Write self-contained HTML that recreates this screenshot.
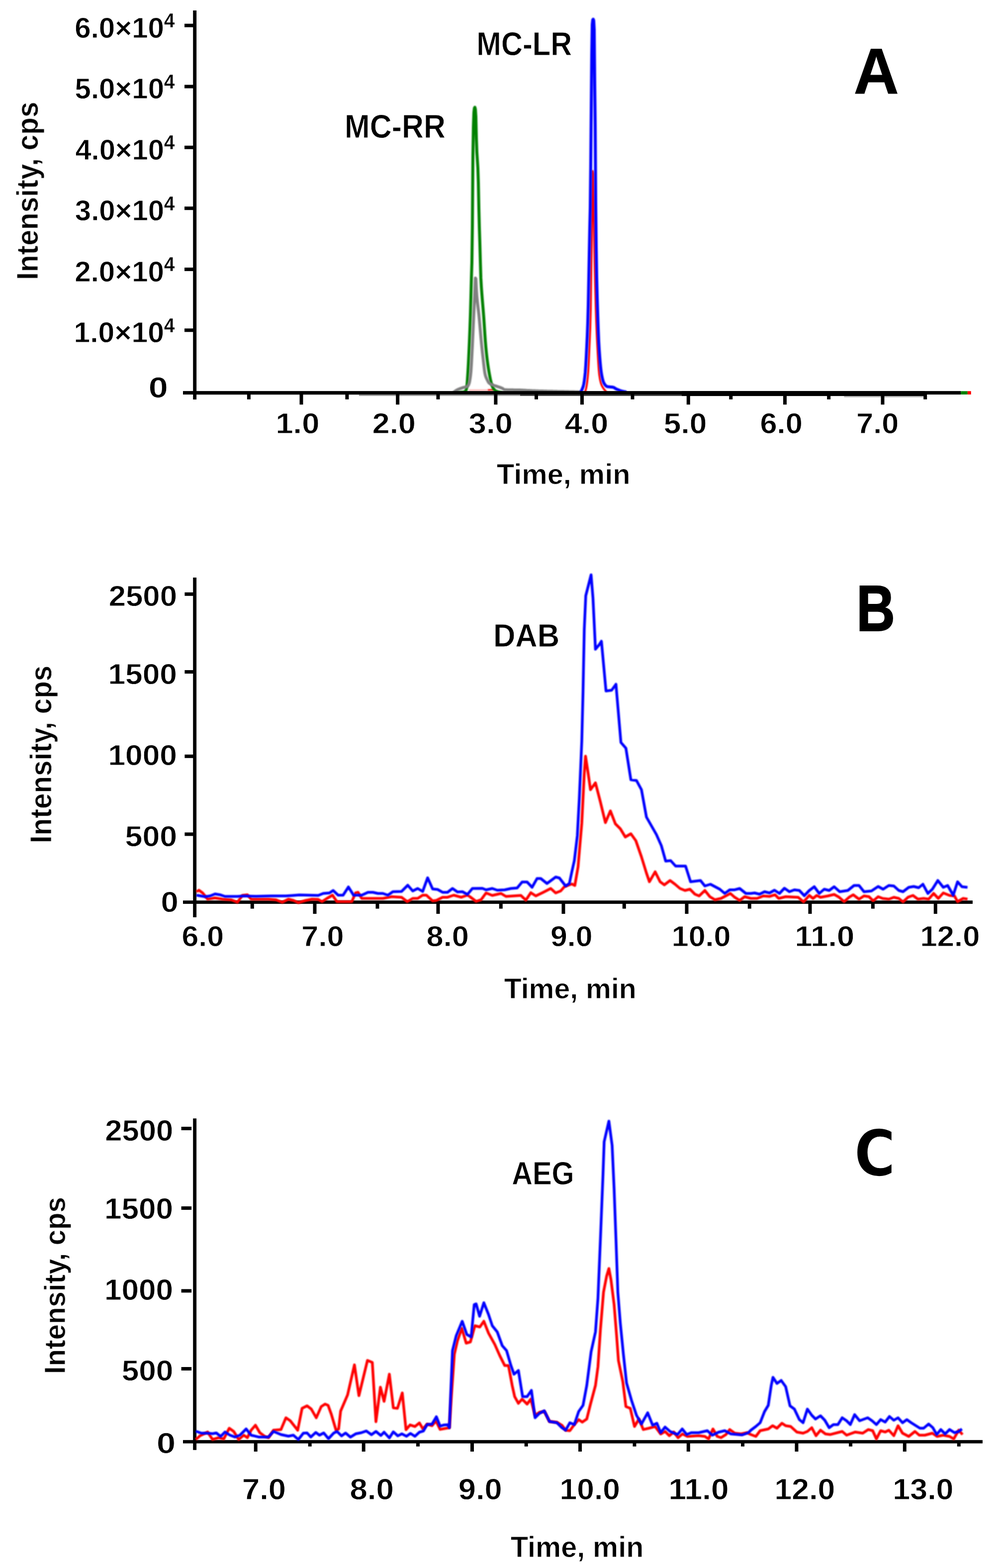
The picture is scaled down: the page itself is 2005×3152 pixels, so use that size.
<!DOCTYPE html>
<html lang="en">
<head>
<meta charset="utf-8">
<title>Chromatograms A, B, C</title>
<style>
html,body{margin:0;padding:0;background:#fff;}
body{width:2005px;height:3152px;}
svg{display:block;}
.soft{filter:blur(0.9px);}
svg text{font-family:"Liberation Sans","DejaVu Sans",sans-serif;font-weight:bold;fill:#000;}
svg text.dv{font-family:"DejaVu Sans","Liberation Sans",sans-serif;}
</style>
</head>
<body>
<svg width="2005" height="3152" viewBox="0 0 2005 3152">
<rect x="0" y="0" width="2005" height="3152" fill="#ffffff"/>
<polyline class="soft" points="943.0,784.3 981.0,784.3" fill="none" stroke="#ffb4b4" stroke-width="3" stroke-linejoin="round" stroke-linecap="butt"/>
<polyline class="soft" points="981.0,784.0 993.0,783.6" fill="none" stroke="#ff2020" stroke-width="3.5" stroke-linejoin="round" stroke-linecap="butt"/>
<polyline class="soft" points="917.0,789.0 918.0,789.0 919.0,789.0 920.0,789.0 921.0,789.0 922.0,788.9 923.0,788.9 924.0,788.9 925.0,788.8 926.0,788.8 927.0,788.7 928.0,788.6 929.0,788.6 930.0,788.5 931.0,788.4 932.0,788.2 933.0,787.9 934.0,787.5 935.0,787.0 936.0,786.4 937.0,785.2 938.0,781.9 939.0,775.5 940.0,762.9 941.0,748.0 942.0,729.8 943.0,708.8 944.0,686.4 945.0,661.5 946.0,632.9 947.0,597.2 948.0,558.7 949.0,527.3 950.0,454.3 951.0,314.9 952.0,255.8 953.0,226.0 954.0,217.5 955.0,215.6 956.0,219.7 957.0,234.8 958.0,278.0 959.0,306.1 960.0,321.6 961.0,337.8 962.0,367.7 963.0,417.7 964.0,457.6 965.0,489.1 966.0,525.5 967.0,558.7 968.0,576.3 969.0,590.0 970.0,603.1 971.0,615.1 972.0,627.0 973.0,640.1 974.0,655.1 975.0,670.7 976.0,685.2 977.0,697.3 978.0,707.7 979.0,716.8 980.0,725.0 981.0,732.3 982.0,739.1 983.0,745.2 984.0,751.0 985.0,756.4 986.0,761.5 987.0,766.1 988.0,770.0 989.0,773.3 990.0,776.3 991.0,778.8 992.0,780.6 993.0,782.0 994.0,783.2 995.0,784.3 996.0,785.1 997.0,785.8 998.0,786.2 999.0,786.6 1000.0,787.0 1001.0,787.3 1002.0,787.7 1003.0,788.0 1004.0,788.2 1005.0,788.4 1006.0,788.6 1007.0,788.8 1008.0,788.9 1009.0,789.0 1010.0,789.0 1010.0,789.0" fill="none" stroke="#008000" stroke-width="6" stroke-linejoin="round" stroke-linecap="butt"/>
<polyline class="soft" points="912.0,789.0 913.0,788.1 914.0,787.3 915.0,786.5 916.0,785.8 917.0,785.1 918.0,784.5 919.0,784.0 920.0,783.5 921.0,783.0 922.0,782.5 923.0,782.1 924.0,781.7 925.0,781.3 926.0,780.9 927.0,780.6 928.0,780.2 929.0,779.8 930.0,779.5 931.0,779.2 932.0,778.9 933.0,778.7 934.0,778.5 935.0,778.3 936.0,778.0 937.0,777.8 938.0,777.4 939.0,777.0 940.0,776.5 941.0,775.6 942.0,774.1 943.0,772.0 944.0,768.7 945.0,763.5 946.0,756.6 947.0,747.5 948.0,732.5 949.0,713.7 950.0,694.0 951.0,672.7 952.0,649.4 953.0,627.5 954.0,606.8 955.0,585.2 956.0,558.9 957.0,560.4 958.0,581.4 959.0,595.9 960.0,606.1 961.0,614.8 962.0,623.2 963.0,632.1 964.0,642.3 965.0,653.5 966.0,665.1 967.0,676.7 968.0,687.8 969.0,697.9 970.0,707.4 971.0,716.4 972.0,725.0 973.0,733.8 974.0,742.4 975.0,749.6 976.0,754.1 977.0,757.3 978.0,759.8 979.0,762.0 980.0,764.0 981.0,766.0 982.0,767.8 983.0,769.3 984.0,770.3 985.0,771.0 986.0,771.6 987.0,772.2 988.0,772.6 989.0,773.1 990.0,773.5 991.0,773.9 992.0,774.3 993.0,774.6 994.0,775.0 995.0,775.3 996.0,775.6 997.0,775.9 998.0,776.2 999.0,776.6 1000.0,776.9 1001.0,777.2 1002.0,777.6 1003.0,777.9 1004.0,778.2 1005.0,778.5 1006.0,778.9 1007.0,779.3 1008.0,779.6 1009.0,780.1 1010.0,780.5 1011.0,781.1 1012.0,781.9 1013.0,782.6 1014.0,783.2 1015.0,783.5 1016.0,783.5 1017.0,783.6 1018.0,783.6 1019.0,783.6 1020.0,783.7 1021.0,783.7 1022.0,783.7 1023.0,783.7 1024.0,783.8 1025.0,783.8 1026.0,783.8 1027.0,783.8 1028.0,783.8 1029.0,783.8 1030.0,783.8 1031.0,783.8 1032.0,783.8 1033.0,783.9 1034.0,783.9 1035.0,783.9 1036.0,783.9 1037.0,783.9 1038.0,783.9 1039.0,783.9 1040.0,783.9 1041.0,784.0 1042.0,784.0 1043.0,784.0 1044.0,784.0 1045.0,784.1 1046.0,784.1 1047.0,784.2 1048.0,784.2 1049.0,784.2 1050.0,784.3 1051.0,784.3 1052.0,784.4 1053.0,784.4 1054.0,784.5 1055.0,784.6 1056.0,784.6 1057.0,784.7 1058.0,784.7 1059.0,784.8 1060.0,784.9 1061.0,784.9 1062.0,785.0 1063.0,785.0 1064.0,785.1 1065.0,785.1 1066.0,785.2 1067.0,785.2 1068.0,785.3 1069.0,785.3 1070.0,785.4 1071.0,785.4 1072.0,785.5 1073.0,785.5 1074.0,785.6 1075.0,785.6 1076.0,785.6 1077.0,785.7 1078.0,785.7 1079.0,785.7 1080.0,785.8 1081.0,785.8 1082.0,785.8 1083.0,785.9 1084.0,785.9 1085.0,785.9 1086.0,786.0 1087.0,786.0 1088.0,786.0 1089.0,786.1 1090.0,786.1 1091.0,786.1 1092.0,786.1 1093.0,786.2 1094.0,786.2 1095.0,786.2 1096.0,786.3 1097.0,786.3 1098.0,786.3 1099.0,786.3 1100.0,786.4 1101.0,786.4 1102.0,786.4 1103.0,786.4 1104.0,786.5 1105.0,786.5 1106.0,786.5 1107.0,786.6 1108.0,786.6 1109.0,786.6 1110.0,786.6 1111.0,786.6 1112.0,786.7 1113.0,786.7 1114.0,786.7 1115.0,786.7 1116.0,786.8 1117.0,786.8 1118.0,786.8 1119.0,786.8 1120.0,786.8 1121.0,786.9 1122.0,786.9 1123.0,786.9 1124.0,786.9 1125.0,787.0 1126.0,787.0 1127.0,787.0 1128.0,787.0 1129.0,787.0 1130.0,787.1 1131.0,787.1 1132.0,787.1 1133.0,787.1 1134.0,787.1 1135.0,787.2 1136.0,787.2 1137.0,787.2 1138.0,787.2 1139.0,787.2 1140.0,787.3 1141.0,787.3 1142.0,787.3 1143.0,787.3 1144.0,787.4 1145.0,787.4 1146.0,787.4 1147.0,787.4 1148.0,787.5 1149.0,787.5 1150.0,787.5 1151.0,787.5 1152.0,787.6 1153.0,787.6 1154.0,787.6 1155.0,787.6 1156.0,787.7 1157.0,787.7 1158.0,787.7 1159.0,787.7 1160.0,787.8 1161.0,787.8 1162.0,787.8 1163.0,787.9 1164.0,787.9 1165.0,787.9 1166.0,787.9 1167.0,788.0 1168.0,788.0 1168.0,788.0" fill="none" stroke="#808080" stroke-width="6" stroke-linejoin="round" stroke-linecap="butt"/>
<polyline class="soft" points="1176.0,789.0 1177.0,786.9 1178.0,783.6 1179.0,779.4 1180.0,773.8 1181.0,766.6 1182.0,757.7 1183.0,746.1 1184.0,727.7 1185.0,705.4 1186.0,683.0 1187.0,659.1 1188.0,621.5 1189.0,549.2 1190.0,480.8 1191.0,405.5 1192.0,343.7 1193.0,348.7 1194.0,409.1 1195.0,477.0 1196.0,529.5 1197.0,574.5 1198.0,613.4 1199.0,644.5 1200.0,669.4 1201.0,690.2 1202.0,709.1 1203.0,727.0 1204.0,742.2 1205.0,752.6 1206.0,759.3 1207.0,764.6 1208.0,768.8 1209.0,772.0 1210.0,774.5 1211.0,776.6 1212.0,778.4 1213.0,780.0 1214.0,781.5 1215.0,782.8 1216.0,784.1 1217.0,785.3 1218.0,786.3 1219.0,787.2 1220.0,788.0 1220.0,788.0" fill="none" stroke="#ff0000" stroke-width="4" stroke-linejoin="round" stroke-linecap="butt"/>
<polyline class="soft" points="1166.0,789.0 1167.0,788.6 1168.0,787.6 1169.0,786.2 1170.0,784.0 1171.0,781.6 1172.0,779.2 1173.0,776.2 1174.0,771.8 1175.0,765.7 1176.0,758.0 1177.0,748.3 1178.0,734.2 1179.0,716.3 1180.0,696.4 1181.0,675.0 1182.0,648.8 1183.0,612.5 1184.0,561.8 1185.0,510.1 1186.0,459.6 1187.0,416.9 1188.0,329.7 1189.0,217.0 1190.0,109.9 1191.0,49.4 1192.0,39.9 1193.0,38.6 1194.0,41.5 1195.0,60.0 1196.0,166.9 1197.0,253.0 1198.0,409.5 1199.0,497.2 1200.0,557.0 1201.0,597.6 1202.0,630.1 1203.0,660.0 1204.0,685.0 1205.0,702.2 1206.0,716.5 1207.0,728.8 1208.0,739.2 1209.0,747.5 1210.0,753.7 1211.0,758.8 1212.0,763.1 1213.0,766.6 1214.0,769.2 1215.0,771.0 1216.0,772.5 1217.0,773.9 1218.0,775.0 1219.0,775.9 1220.0,776.6 1221.0,777.0 1222.0,777.2 1223.0,777.4 1224.0,777.5 1225.0,777.6 1226.0,777.7 1227.0,777.8 1228.0,777.9 1229.0,777.9 1230.0,778.0 1231.0,778.2 1232.0,778.3 1233.0,778.5 1234.0,778.8 1235.0,779.3 1236.0,779.9 1237.0,780.6 1238.0,781.2 1239.0,781.7 1240.0,782.2 1241.0,782.6 1242.0,783.1 1243.0,783.5 1244.0,783.9 1245.0,784.3 1246.0,784.7 1247.0,785.1 1248.0,785.4 1249.0,785.7 1250.0,786.0 1251.0,786.3 1252.0,786.5 1253.0,786.8 1254.0,787.0 1255.0,787.2 1256.0,787.4 1257.0,787.6 1258.0,787.7 1259.0,787.9 1260.0,788.0 1260.0,788.0" fill="none" stroke="#0000ff" stroke-width="6" stroke-linejoin="round" stroke-linecap="butt"/>
<rect x="395.10" y="793.00" width="326.90" height="2.20" fill="#e4e4e4"/>
<rect x="722.00" y="793.00" width="324.00" height="3.00" fill="#9c9c9c"/>
<rect x="1046.00" y="793.00" width="325.00" height="3.00" fill="#444444"/>
<rect x="1697.50" y="796.00" width="159.50" height="2.80" fill="#bdbdbd"/>
<rect x="395.10" y="21.00" width="3.30" height="765.00" fill="#ececec"/>
<rect x="388.20" y="21.00" width="6.90" height="782.10" fill="#000"/>
<rect x="368.00" y="786.10" width="1564.50" height="7.00" fill="#000"/>
<rect x="1371.00" y="786.10" width="489.00" height="10.00" fill="#000"/>
<rect x="1932.50" y="786.30" width="13.30" height="6.70" fill="#008000"/>
<rect x="1945.80" y="786.30" width="7.00" height="6.70" fill="#ff0000"/>
<rect x="371.00" y="47.70" width="18.20" height="7.00" fill="#000"/>
<rect x="371.00" y="170.50" width="18.20" height="7.00" fill="#000"/>
<rect x="371.00" y="292.80" width="18.20" height="7.00" fill="#000"/>
<rect x="371.00" y="415.20" width="18.20" height="7.00" fill="#000"/>
<rect x="371.00" y="537.90" width="18.20" height="7.00" fill="#000"/>
<rect x="371.00" y="660.30" width="18.20" height="7.00" fill="#000"/>
<text transform="matrix(0.29120 0 0 0.28592 150.26 75.63)" font-size="200" stroke="#fff" stroke-width="2.77" class="soft">6.0×10</text>
<text transform="matrix(0.19159 0 0 0.20145 329.98 55.25)" font-size="200" stroke="#fff" stroke-width="1.53" class="soft">4</text>
<text transform="matrix(0.29071 0 0 0.28592 150.56 198.43)" font-size="200" stroke="#fff" stroke-width="2.77" class="soft">5.0×10</text>
<text transform="matrix(0.19159 0 0 0.20145 329.98 178.05)" font-size="200" stroke="#fff" stroke-width="1.53" class="soft">4</text>
<text transform="matrix(0.28927 0 0 0.28592 151.43 320.73)" font-size="200" stroke="#fff" stroke-width="2.78" class="soft">4.0×10</text>
<text transform="matrix(0.19159 0 0 0.20145 329.98 300.35)" font-size="200" stroke="#fff" stroke-width="1.53" class="soft">4</text>
<text transform="matrix(0.29023 0 0 0.28592 150.85 443.13)" font-size="200" stroke="#fff" stroke-width="2.78" class="soft">3.0×10</text>
<text transform="matrix(0.19159 0 0 0.20145 329.98 422.75)" font-size="200" stroke="#fff" stroke-width="1.53" class="soft">4</text>
<text transform="matrix(0.29120 0 0 0.28592 150.26 565.83)" font-size="200" stroke="#fff" stroke-width="2.77" class="soft">2.0×10</text>
<text transform="matrix(0.19159 0 0 0.20145 329.98 545.45)" font-size="200" stroke="#fff" stroke-width="1.53" class="soft">4</text>
<text transform="matrix(0.29413 0 0 0.28592 148.48 688.23)" font-size="200" stroke="#fff" stroke-width="2.76" class="soft">1.0×10</text>
<text transform="matrix(0.19159 0 0 0.20145 329.98 667.85)" font-size="200" stroke="#fff" stroke-width="1.53" class="soft">4</text>
<text transform="matrix(0.35158 0 0 0.28803 298.69 799.42)" font-size="200" stroke="#fff" stroke-width="2.51" class="soft">0</text>
<rect x="602.50" y="790.00" width="7.00" height="23.30" fill="#000"/>
<rect x="796.20" y="790.00" width="7.00" height="23.30" fill="#000"/>
<rect x="993.40" y="790.00" width="7.00" height="23.30" fill="#000"/>
<rect x="1167.00" y="790.00" width="7.00" height="23.30" fill="#000"/>
<rect x="1380.80" y="790.00" width="7.00" height="23.30" fill="#000"/>
<rect x="1575.00" y="790.00" width="7.00" height="23.30" fill="#000"/>
<rect x="1771.50" y="790.00" width="7.00" height="23.30" fill="#000"/>
<rect x="496.90" y="790.00" width="7.00" height="12.80" fill="#000"/>
<rect x="694.40" y="790.00" width="7.00" height="12.80" fill="#000"/>
<rect x="877.50" y="790.00" width="7.00" height="12.80" fill="#000"/>
<rect x="1075.00" y="790.00" width="7.00" height="12.80" fill="#000"/>
<rect x="1268.50" y="790.00" width="7.00" height="12.80" fill="#000"/>
<rect x="1466.30" y="790.00" width="7.00" height="12.80" fill="#000"/>
<rect x="1663.20" y="790.00" width="7.00" height="12.80" fill="#000"/>
<rect x="1857.20" y="790.00" width="7.00" height="12.80" fill="#000"/>
<text transform="matrix(0.31673 0 0 0.28944 554.38 871.12)" font-size="200" stroke="#fff" stroke-width="2.64" class="soft">1.0</text>
<text transform="matrix(0.31331 0 0 0.28944 748.81 871.12)" font-size="200" stroke="#fff" stroke-width="2.66" class="soft">2.0</text>
<text transform="matrix(0.31736 0 0 0.28944 942.61 871.12)" font-size="200" stroke="#fff" stroke-width="2.64" class="soft">3.0</text>
<text transform="matrix(0.31461 0 0 0.28944 1135.86 871.12)" font-size="200" stroke="#fff" stroke-width="2.65" class="soft">4.0</text>
<text transform="matrix(0.31174 0 0 0.28944 1334.73 871.12)" font-size="200" stroke="#fff" stroke-width="2.66" class="soft">5.0</text>
<text transform="matrix(0.30722 0 0 0.28944 1528.45 871.12)" font-size="200" stroke="#fff" stroke-width="2.68" class="soft">6.0</text>
<text transform="matrix(0.30575 0 0 0.28944 1722.15 871.12)" font-size="200" stroke="#fff" stroke-width="2.69" class="soft">7.0</text>
<text transform="matrix(0.28886 0 0 0.28913 999.02 972.90)" font-size="200" stroke="#fff" stroke-width="2.77" class="soft">Time, min</text>
<text transform="matrix(0 -0.28366 0.30580 0 76.10 562.79)" font-size="200" stroke="#fff" stroke-width="2.72" class="soft">Intensity, cps</text>
<text transform="matrix(0.30447 0 0 0.33188 692.94 277.00)" font-size="200" stroke="#fff" stroke-width="2.52" class="soft">MC-RR</text>
<text transform="matrix(0.29793 0 0 0.33188 958.33 110.70)" font-size="200" stroke="#fff" stroke-width="2.54" class="soft">MC-LR</text>
<text transform="matrix(0.62985 0 0 0.65362 1716.65 187.60)" font-size="200" stroke="#000" stroke-width="1.25" stroke-linejoin="miter" class="soft">A</text>
<rect x="388.20" y="1161.00" width="6.90" height="682.90" fill="#000"/>
<rect x="368.00" y="1810.20" width="1588.00" height="6.70" fill="#000"/>
<polyline class="soft" points="395.0,1792.5 400.0,1789.5 407.5,1795.0 417.5,1807.5 432.0,1805.0 447.5,1807.5 465.0,1808.7 477.5,1813.7 487.5,1800.0 497.5,1798.7 505.0,1807.5 540.0,1807.5 555.0,1808.7 567.5,1813.7 580.0,1807.5 590.0,1810.0 600.0,1814.5 615.0,1810.0 627.5,1807.5 640.0,1808.0 647.5,1812.5 657.5,1806.0 668.7,1799.5 677.5,1812.5 707.5,1812.5 715.0,1795.0 720.0,1793.7 727.5,1806.0 752.5,1806.0 770.0,1806.0 787.5,1802.5 807.5,1803.7 819.0,1812.5 830.0,1806.0 840.0,1806.0 850.0,1799.5 857.5,1799.5 870.0,1811.0 877.5,1810.0 890.0,1803.7 900.0,1803.7 912.5,1799.5 927.5,1803.7 940.0,1799.5 945.0,1802.5 957.5,1812.0 967.5,1808.7 977.5,1795.0 990.0,1800.0 1007.5,1796.0 1017.5,1802.0 1047.5,1800.0 1057.5,1809.5 1067.5,1794.5 1077.5,1801.0 1092.5,1793.7 1107.5,1786.0 1117.5,1795.0 1127.5,1791.0 1135.0,1782.5 1145.0,1778.7 1150.0,1777.0 1156.0,1780.0 1162.5,1742.5 1170.0,1655.0 1175.0,1555.0 1177.5,1520.0 1182.5,1552.5 1187.5,1587.5 1197.5,1573.7 1207.5,1612.5 1217.5,1653.7 1227.5,1630.0 1237.5,1656.0 1247.5,1666.0 1257.5,1682.5 1268.7,1676.0 1278.7,1690.0 1290.0,1722.5 1300.0,1755.0 1306.0,1772.5 1317.5,1752.5 1327.5,1772.5 1336.0,1778.7 1347.5,1770.0 1357.5,1777.5 1367.5,1786.0 1377.5,1790.0 1387.5,1787.5 1397.5,1797.5 1406.0,1801.0 1417.5,1790.0 1427.5,1802.5 1437.5,1808.7 1450.0,1806.0 1468.7,1796.0 1477.5,1803.7 1487.5,1810.0 1497.5,1802.5 1510.0,1806.0 1522.5,1806.0 1535.0,1801.0 1547.5,1802.0 1558.7,1798.7 1566.0,1806.0 1580.0,1802.5 1605.0,1803.7 1616.0,1813.0 1627.5,1800.0 1635.0,1806.0 1642.5,1800.0 1650.0,1803.7 1665.0,1801.0 1677.5,1798.0 1687.5,1803.7 1697.5,1812.5 1707.5,1803.7 1716.0,1798.7 1727.5,1807.5 1737.5,1801.0 1747.5,1802.5 1756.0,1811.0 1766.0,1802.5 1775.0,1806.0 1787.5,1807.5 1797.5,1803.7 1807.5,1806.0 1816.0,1813.0 1826.0,1803.7 1836.0,1800.0 1846.0,1807.5 1857.5,1806.0 1867.5,1807.5 1877.5,1796.0 1887.0,1806.0 1897.0,1795.0 1909.5,1800.0 1919.5,1801.0 1925.7,1812.5 1937.0,1806.0 1945.7,1807.5" fill="none" stroke="#ff0000" stroke-width="5.5" stroke-linejoin="round" stroke-linecap="butt"/>
<polyline class="soft" points="395.0,1799.5 412.5,1802.5 422.5,1801.0 432.5,1797.0 442.5,1798.7 452.5,1802.0 477.5,1802.0 490.0,1801.0 515.0,1801.7 545.0,1801.0 575.0,1801.0 590.0,1800.0 602.0,1799.0 640.0,1800.0 650.0,1796.0 662.5,1795.0 670.0,1790.0 680.0,1799.5 690.0,1799.5 700.7,1783.0 711.0,1799.5 727.5,1799.5 740.0,1793.7 750.0,1793.7 760.0,1796.0 770.0,1796.0 780.0,1799.5 790.0,1792.5 807.5,1792.0 820.0,1779.5 830.0,1791.0 840.0,1786.0 850.0,1792.0 860.0,1764.5 870.0,1787.0 880.0,1788.0 890.0,1793.7 900.0,1793.7 910.0,1786.0 920.0,1793.0 930.0,1792.5 940.0,1798.0 950.0,1786.0 970.0,1785.7 977.5,1788.7 990.0,1786.0 1000.0,1789.5 1015.0,1788.7 1027.5,1786.0 1040.0,1785.0 1050.0,1773.0 1060.0,1773.0 1070.0,1783.7 1080.0,1766.0 1087.5,1766.0 1100.0,1776.0 1117.5,1763.0 1125.0,1765.0 1137.5,1781.0 1145.0,1776.0 1150.0,1752.5 1155.0,1730.0 1161.0,1680.0 1165.0,1605.0 1170.0,1490.0 1172.5,1390.0 1175.0,1265.0 1178.0,1197.5 1188.7,1155.5 1192.5,1202.5 1197.5,1305.0 1205.0,1296.0 1209.5,1289.0 1218.7,1389.0 1230.0,1387.5 1238.7,1375.5 1248.7,1492.5 1258.7,1504.0 1268.7,1567.5 1280.0,1569.0 1290.0,1587.5 1300.0,1642.5 1320.0,1677.5 1330.0,1700.0 1338.7,1731.0 1348.7,1730.0 1358.7,1741.0 1378.7,1741.0 1388.7,1772.5 1408.7,1770.0 1417.5,1781.0 1428.7,1777.5 1447.5,1787.5 1457.5,1796.0 1467.5,1788.7 1477.5,1788.7 1487.5,1786.0 1500.0,1796.0 1510.0,1796.0 1517.5,1795.0 1527.5,1797.5 1537.5,1792.5 1547.5,1795.0 1557.5,1789.5 1567.5,1796.0 1577.5,1785.5 1587.5,1792.5 1597.5,1788.7 1607.5,1790.0 1617.5,1800.5 1627.5,1790.0 1637.5,1782.5 1647.5,1796.0 1657.5,1787.5 1667.5,1790.0 1677.5,1782.5 1688.7,1792.5 1705.0,1790.0 1717.5,1780.0 1727.5,1780.0 1737.5,1792.5 1752.5,1791.0 1766.0,1782.0 1776.0,1787.5 1787.5,1780.0 1797.5,1781.0 1807.5,1790.0 1816.0,1792.5 1827.5,1783.7 1837.5,1782.0 1847.5,1784.5 1856.0,1777.5 1866.0,1796.0 1875.0,1787.5 1886.0,1770.0 1897.0,1783.7 1905.7,1780.0 1917.0,1799.5 1925.7,1772.5 1934.5,1782.5 1945.7,1783.7" fill="none" stroke="#0000ff" stroke-width="5.5" stroke-linejoin="round" stroke-linecap="butt"/>
<rect x="371.40" y="1190.80" width="17.80" height="7.00" fill="#000"/>
<rect x="371.40" y="1347.10" width="17.80" height="7.00" fill="#000"/>
<rect x="371.40" y="1516.80" width="17.80" height="7.00" fill="#000"/>
<rect x="371.40" y="1673.40" width="17.80" height="7.00" fill="#000"/>
<text transform="matrix(0.30837 0 0 0.28592 218.74 1217.93)" font-size="200" stroke="#fff" stroke-width="2.69" class="soft">2500</text>
<text transform="matrix(0.31132 0 0 0.28592 217.45 1374.63)" font-size="200" stroke="#fff" stroke-width="2.68" class="soft">1500</text>
<text transform="matrix(0.31132 0 0 0.28662 217.45 1537.83)" font-size="200" stroke="#fff" stroke-width="2.68" class="soft">1000</text>
<text transform="matrix(0.31317 0 0 0.28592 251.62 1701.23)" font-size="200" stroke="#fff" stroke-width="2.67" class="soft">500</text>
<text transform="matrix(0.31684 0 0 0.28662 323.47 1833.43)" font-size="200" stroke="#fff" stroke-width="2.65" class="soft">0</text>
<rect x="629.50" y="1813.50" width="7.00" height="23.50" fill="#000"/>
<rect x="877.50" y="1813.50" width="7.00" height="23.50" fill="#000"/>
<rect x="1129.50" y="1813.50" width="7.00" height="23.50" fill="#000"/>
<rect x="1377.50" y="1813.50" width="7.00" height="23.50" fill="#000"/>
<rect x="1625.50" y="1813.50" width="7.00" height="23.50" fill="#000"/>
<rect x="1877.80" y="1813.50" width="7.00" height="23.50" fill="#000"/>
<rect x="503.80" y="1813.50" width="7.00" height="13.10" fill="#000"/>
<rect x="755.50" y="1813.50" width="7.00" height="13.10" fill="#000"/>
<rect x="1003.80" y="1813.50" width="7.00" height="13.10" fill="#000"/>
<rect x="1251.80" y="1813.50" width="7.00" height="13.10" fill="#000"/>
<rect x="1503.80" y="1813.50" width="7.00" height="13.10" fill="#000"/>
<rect x="1751.90" y="1813.50" width="7.00" height="13.10" fill="#000"/>
<text transform="matrix(0.30418 0 0 0.28662 365.47 1901.53)" font-size="200" stroke="#fff" stroke-width="2.71" class="soft">6.0</text>
<text transform="matrix(0.30613 0 0 0.28662 606.34 1901.53)" font-size="200" stroke="#fff" stroke-width="2.70" class="soft">7.0</text>
<text transform="matrix(0.30644 0 0 0.28662 857.56 1901.53)" font-size="200" stroke="#fff" stroke-width="2.70" class="soft">8.0</text>
<text transform="matrix(0.30380 0 0 0.28662 1106.97 1901.53)" font-size="200" stroke="#fff" stroke-width="2.71" class="soft">9.0</text>
<text transform="matrix(0.30571 0 0 0.28662 1350.63 1901.53)" font-size="200" stroke="#fff" stroke-width="2.70" class="soft">10.0</text>
<text transform="matrix(0.31653 0 0 0.28662 1598.49 1901.53)" font-size="200" stroke="#fff" stroke-width="2.66" class="soft">11.0</text>
<text transform="matrix(0.30815 0 0 0.28662 1850.59 1901.53)" font-size="200" stroke="#fff" stroke-width="2.69" class="soft">12.0</text>
<text transform="matrix(0.28603 0 0 0.28768 1013.83 2006.90)" font-size="200" stroke="#fff" stroke-width="2.79" class="soft">Time, min</text>
<text transform="matrix(0 -0.28285 0.30145 0 103.20 1695.08)" font-size="200" stroke="#fff" stroke-width="2.74" class="soft">Intensity, cps</text>
<text transform="matrix(0.30779 0 0 0.32319 991.90 1300.20)" font-size="200" stroke="#fff" stroke-width="2.54" class="soft">DAB</text>
<text transform="matrix(0.53852 0 0 0.64928 1722.20 1268.10)" font-size="200" stroke="#000" stroke-width="3.04" stroke-linejoin="miter" class="soft">B</text>
<rect x="388.20" y="2248.30" width="6.90" height="666.50" fill="#000"/>
<rect x="368.00" y="2894.80" width="1608.00" height="6.70" fill="#000"/>
<polyline class="soft" points="393.7,2893.7 402.5,2886.0 417.5,2878.7 427.5,2893.7 440.0,2890.0 450.0,2892.5 461.0,2871.0 470.0,2877.5 480.0,2893.7 490.0,2885.0 497.5,2890.0 505.0,2875.0 513.7,2865.0 522.5,2880.0 532.5,2887.5 540.0,2890.0 550.0,2875.0 565.0,2873.7 575.0,2850.0 583.7,2856.0 598.7,2875.0 607.5,2831.0 617.5,2826.0 626.0,2832.5 636.0,2850.0 646.0,2827.5 653.7,2822.5 659.8,2825.0 666.3,2843.0 676.0,2875.8 681.0,2872.5 685.0,2836.7 699.0,2804.0 712.8,2743.6 721.8,2805.6 739.0,2734.7 748.7,2738.7 756.0,2857.9 765.0,2788.5 772.4,2817.0 783.0,2762.4 791.0,2830.0 799.3,2831.0 809.0,2800.0 816.5,2874.0 824.6,2864.4 834.4,2867.7 843.4,2860.3 850.7,2872.6 858.9,2862.8 868.7,2866.0 876.8,2856.2 885.0,2873.4 895.0,2871.5 903.7,2870.0 907.5,2810.0 913.7,2722.5 920.0,2695.0 928.7,2670.0 937.5,2700.0 946.0,2697.5 955.0,2665.0 965.0,2667.5 973.0,2656.0 982.5,2680.0 995.0,2702.5 1005.0,2725.0 1015.0,2745.0 1022.5,2745.0 1030.0,2785.0 1035.0,2807.5 1042.5,2821.0 1050.0,2812.5 1060.0,2822.5 1067.5,2812.5 1076.0,2845.0 1085.0,2839.0 1095.0,2837.5 1105.0,2857.5 1120.0,2859.0 1130.0,2865.0 1137.5,2875.0 1146.0,2876.0 1155.0,2863.7 1163.7,2853.7 1171.0,2858.7 1180.0,2852.5 1187.5,2822.5 1197.5,2785.0 1202.5,2747.5 1207.5,2672.5 1213.7,2597.5 1220.0,2565.0 1224.5,2550.0 1228.7,2572.5 1235.0,2622.5 1240.0,2685.0 1243.7,2735.0 1252.5,2777.5 1258.7,2827.5 1267.5,2831.0 1276.0,2867.5 1285.0,2852.5 1293.7,2873.7 1305.0,2871.0 1317.5,2867.5 1328.7,2882.5 1337.5,2877.5 1346.0,2886.0 1355.0,2878.7 1363.7,2890.0 1372.5,2882.5 1382.5,2887.5 1405.0,2886.0 1417.5,2887.5 1425.0,2892.5 1433.7,2872.5 1442.5,2887.5 1450.0,2890.0 1460.0,2883.7 1467.5,2873.7 1477.5,2881.0 1490.0,2882.5 1502.5,2880.0 1510.0,2883.7 1520.0,2887.5 1528.7,2876.0 1545.0,2872.5 1553.7,2866.0 1562.5,2871.0 1572.5,2861.0 1580.0,2866.0 1590.0,2867.5 1602.5,2878.7 1615.0,2881.0 1623.7,2877.5 1632.5,2870.0 1641.0,2886.0 1650.0,2875.0 1660.0,2882.5 1670.0,2883.7 1693.7,2877.5 1702.5,2885.0 1720.0,2878.7 1735.0,2881.0 1746.0,2873.7 1755.0,2876.0 1762.5,2892.5 1771.0,2876.0 1780.0,2878.7 1787.5,2875.0 1797.5,2886.0 1806.0,2866.0 1815.0,2881.0 1827.5,2887.5 1840.0,2877.5 1848.7,2885.0 1860.0,2885.0 1875.0,2881.0 1884.5,2887.5 1897.0,2885.0 1909.5,2887.5 1918.0,2892.5 1928.0,2875.0 1935.7,2883.7" fill="none" stroke="#ff0000" stroke-width="5.5" stroke-linejoin="round" stroke-linecap="butt"/>
<polyline class="soft" points="393.7,2877.0 405.0,2881.0 417.5,2881.0 427.5,2882.0 435.0,2880.5 443.7,2887.5 452.5,2878.7 462.5,2885.0 472.5,2888.7 482.5,2885.0 495.0,2872.5 505.0,2885.0 520.0,2888.7 540.0,2888.7 550.0,2877.5 565.0,2883.7 580.0,2887.0 590.0,2885.0 600.0,2893.7 610.0,2881.0 617.5,2880.5 625.0,2888.7 635.0,2879.5 642.5,2885.0 651.0,2880.5 660.6,2892.0 671.2,2880.7 677.7,2877.5 686.7,2886.4 694.9,2880.7 704.7,2888.9 715.3,2882.3 726.7,2880.0 736.5,2876.6 747.0,2884.0 756.0,2877.5 765.9,2885.6 772.4,2879.0 783.0,2890.5 791.0,2878.3 800.0,2886.4 808.3,2882.3 817.3,2887.2 825.4,2881.5 834.4,2887.2 843.4,2879.0 851.5,2876.6 858.9,2863.6 868.7,2862.8 877.6,2848.0 885.0,2866.8 893.0,2864.4 900.0,2864.0 903.7,2870.0 906.0,2810.0 910.0,2715.0 917.5,2685.0 929.5,2656.0 938.7,2682.5 947.5,2687.5 953.7,2622.5 957.5,2621.0 964.5,2646.0 973.0,2618.7 982.5,2642.5 990.0,2665.0 1000.0,2677.5 1010.0,2705.0 1018.7,2715.0 1027.5,2745.0 1033.7,2762.5 1042.5,2755.0 1051.0,2807.5 1060.0,2807.5 1068.7,2795.0 1076.0,2850.0 1085.0,2841.0 1094.5,2836.0 1105.0,2857.5 1120.0,2860.0 1130.0,2870.0 1137.5,2875.0 1146.0,2860.0 1155.0,2863.7 1163.7,2837.5 1172.5,2825.0 1180.0,2785.0 1188.7,2717.5 1197.5,2677.5 1202.5,2610.0 1207.5,2490.0 1212.5,2365.0 1215.0,2295.0 1224.5,2253.7 1231.0,2302.5 1235.0,2390.0 1238.7,2490.0 1242.5,2597.5 1247.5,2660.0 1253.7,2722.5 1260.0,2780.0 1270.0,2815.0 1280.0,2845.0 1290.0,2862.5 1302.5,2840.0 1312.5,2865.0 1321.0,2861.0 1328.7,2880.0 1337.5,2868.7 1347.5,2877.5 1362.5,2883.7 1372.0,2872.5 1381.0,2883.7 1390.0,2880.0 1405.0,2880.0 1422.5,2876.0 1432.5,2885.0 1445.0,2879.0 1457.5,2876.0 1470.0,2882.5 1492.5,2884.5 1505.0,2880.0 1510.0,2875.0 1520.0,2867.5 1528.7,2860.0 1537.5,2837.5 1545.0,2825.0 1551.0,2785.0 1554.5,2768.7 1562.5,2781.0 1571.0,2775.0 1580.0,2787.5 1588.7,2826.0 1597.5,2832.5 1607.5,2853.7 1615.0,2860.0 1623.7,2832.5 1632.5,2845.0 1640.0,2852.5 1650.0,2846.0 1658.7,2855.0 1667.5,2870.0 1676.0,2863.7 1685.0,2863.7 1693.7,2850.0 1702.5,2856.0 1710.0,2863.7 1718.7,2843.7 1728.7,2856.0 1745.0,2850.0 1753.7,2856.0 1762.5,2863.7 1771.0,2853.7 1780.0,2858.7 1788.7,2847.5 1797.5,2855.0 1806.0,2850.0 1815.0,2860.0 1823.7,2853.7 1832.5,2860.0 1850.0,2871.0 1857.5,2871.0 1867.5,2862.5 1876.0,2870.0 1883.7,2883.7 1892.0,2873.7 1900.7,2882.5 1909.5,2873.7 1919.5,2880.0 1928.0,2877.5 1934.5,2872.5" fill="none" stroke="#0000ff" stroke-width="5.5" stroke-linejoin="round" stroke-linecap="butt"/>
<rect x="364.60" y="2265.00" width="20.50" height="7.00" fill="#000"/>
<rect x="364.60" y="2425.00" width="20.50" height="7.00" fill="#000"/>
<rect x="364.60" y="2591.40" width="20.50" height="7.00" fill="#000"/>
<rect x="364.60" y="2748.00" width="20.50" height="7.00" fill="#000"/>
<text transform="matrix(0.30767 0 0 0.29296 211.25 2292.81)" font-size="200" stroke="#fff" stroke-width="2.66" class="soft">2500</text>
<text transform="matrix(0.31061 0 0 0.29296 209.96 2449.51)" font-size="200" stroke="#fff" stroke-width="2.65" class="soft">1500</text>
<text transform="matrix(0.31061 0 0 0.29366 209.96 2612.71)" font-size="200" stroke="#fff" stroke-width="2.65" class="soft">1000</text>
<text transform="matrix(0.31066 0 0 0.28873 244.74 2775.22)" font-size="200" stroke="#fff" stroke-width="2.67" class="soft">500</text>
<text transform="matrix(0.34211 0 0 0.28662 315.06 2921.13)" font-size="200" stroke="#fff" stroke-width="2.55" class="soft">0</text>
<rect x="510.70" y="2898.20" width="7.00" height="19.80" fill="#000"/>
<rect x="727.70" y="2898.20" width="7.00" height="19.80" fill="#000"/>
<rect x="946.00" y="2898.20" width="7.00" height="19.80" fill="#000"/>
<rect x="1163.10" y="2898.20" width="7.00" height="19.80" fill="#000"/>
<rect x="1380.80" y="2898.20" width="7.00" height="19.80" fill="#000"/>
<rect x="1598.50" y="2898.20" width="7.00" height="19.80" fill="#000"/>
<rect x="1815.80" y="2898.20" width="7.00" height="19.80" fill="#000"/>
<rect x="619.70" y="2898.20" width="7.00" height="9.50" fill="#000"/>
<rect x="837.00" y="2898.20" width="7.00" height="9.50" fill="#000"/>
<rect x="1054.70" y="2898.20" width="7.00" height="9.50" fill="#000"/>
<rect x="1272.50" y="2898.20" width="7.00" height="9.50" fill="#000"/>
<rect x="1490.10" y="2898.20" width="7.00" height="9.50" fill="#000"/>
<rect x="1707.10" y="2898.20" width="7.00" height="9.50" fill="#000"/>
<rect x="1924.80" y="2898.20" width="7.00" height="9.50" fill="#000"/>
<text transform="matrix(0.31609 0 0 0.29437 487.06 3013.81)" font-size="200" stroke="#fff" stroke-width="2.62" class="soft">7.0</text>
<text transform="matrix(0.31856 0 0 0.29437 703.39 3013.81)" font-size="200" stroke="#fff" stroke-width="2.61" class="soft">8.0</text>
<text transform="matrix(0.31597 0 0 0.29437 921.79 3013.81)" font-size="200" stroke="#fff" stroke-width="2.62" class="soft">9.0</text>
<text transform="matrix(0.31196 0 0 0.29437 1125.54 3013.81)" font-size="200" stroke="#fff" stroke-width="2.64" class="soft">10.0</text>
<text transform="matrix(0.32045 0 0 0.29437 1344.43 3013.81)" font-size="200" stroke="#fff" stroke-width="2.60" class="soft">11.0</text>
<text transform="matrix(0.31304 0 0 0.29437 1557.53 3013.81)" font-size="200" stroke="#fff" stroke-width="2.64" class="soft">12.0</text>
<text transform="matrix(0.31440 0 0 0.29437 1795.21 3013.81)" font-size="200" stroke="#fff" stroke-width="2.63" class="soft">13.0</text>
<text transform="matrix(0.28766 0 0 0.29638 1026.92 3130.00)" font-size="200" stroke="#fff" stroke-width="2.74" class="soft">Time, min</text>
<text transform="matrix(0 -0.28172 0.30072 0 130.90 2762.06)" font-size="200" stroke="#fff" stroke-width="2.75" class="soft">Intensity, cps</text>
<text transform="matrix(0.28966 0 0 0.32609 1029.15 2381.40)" font-size="200" stroke="#fff" stroke-width="2.60" class="soft">AEG</text>
<text transform="matrix(0.56613 0 0 0.63775 1717.84 2362.89)" font-size="200" stroke="#fff" stroke-width="2.66" class="soft dv">C</text>
</svg>
</body>
</html>
